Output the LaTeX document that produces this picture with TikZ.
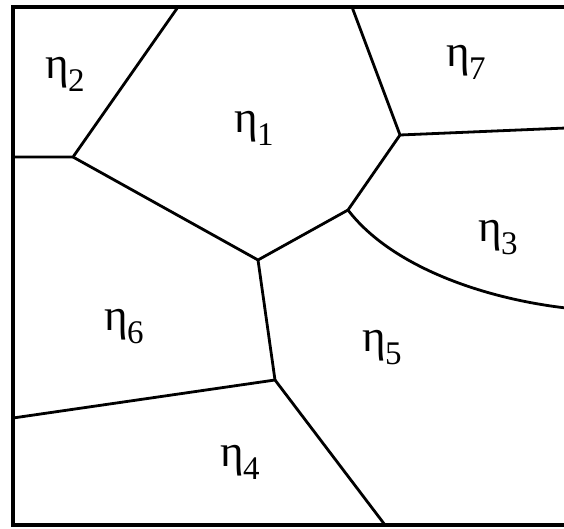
\documentclass[tikz,border=0pt]{standalone}
\usepackage{fontspec}
\setmainfont{Liberation Serif}
\newcommand{\etalab}[1]{η\kern-1pt\raisebox{-13pt}{\fontsize{33}{34}\selectfont #1}}
\begin{document}
\begin{tikzpicture}[x=1pt,y=-1pt,
  edge/.style={line width=2.8pt,line cap=round,line join=round},
  frame/.style={line width=3.6pt},
  lab/.style={font=\fontsize{45}{46}\selectfont,inner sep=0pt}]
\useasboundingbox (0,0) rectangle (564,529);
% frame corners
\coordinate (TL) at (13,7);
\coordinate (TR) at (566,7);
\coordinate (BL) at (13,525);
\coordinate (BR) at (566,525);
% vertices
\coordinate (A) at (73,157);
\coordinate (B) at (400,135);
\coordinate (C) at (348,210);
\coordinate (D) at (258,260);
\coordinate (E) at (275,380);
% boundary endpoints
\coordinate (Aleft) at (13,157);
\coordinate (Atop) at (178,7);
\coordinate (Btop) at (352,7);
\coordinate (Bright) at (566,128);
\coordinate (Cright) at (566,308);
\coordinate (Eleft) at (13,418);
\coordinate (Ebot) at (385,525);
\draw[frame] (TR) -- (TL) -- (BL) -- (BR);
\draw[edge] (Aleft) -- (A) -- (Atop);
\draw[edge] (A) -- (D) -- (C) -- (B) -- (Btop);
\draw[edge] (B) -- (Bright);
\draw[edge] (C) .. controls (390,265) and (480,298) .. (Cright);
\draw[edge] (D) -- (E) -- (Eleft);
\draw[edge] (E) -- (Ebot);
% labels
\node[lab] (n1) at (254,128) {\etalab{1}};
\node[lab] (n2) at (65,74) {\etalab{2}};
\node[lab] (n3) at (498,238) {\etalab{3}};
\node[lab] (n4) at (240,462) {\etalab{4}};
\node[lab] (n5) at (382,348) {\etalab{5}};
\node[lab] (n6) at (124,327) {\etalab{6}};
\node[lab] (n7) at (466,62) {\etalab{7}};
\end{tikzpicture}
\end{document}
